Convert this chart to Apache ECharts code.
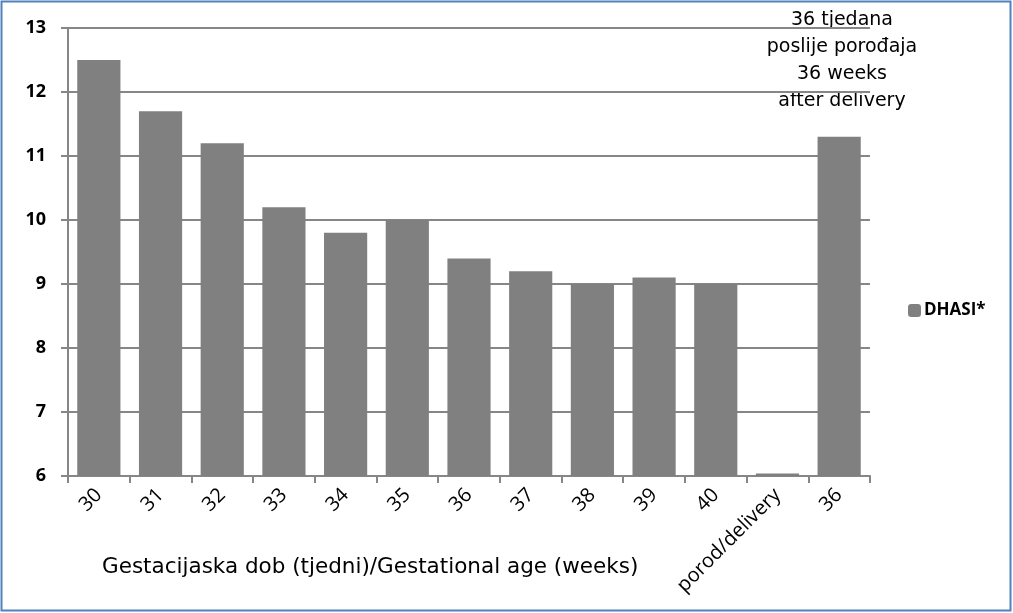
<!DOCTYPE html>
<html><head><meta charset="utf-8">
<script src="https://cdn.jsdelivr.net/npm/echarts@6/dist/echarts.min.js"></script>
<style>html,body{margin:0;padding:0;background:#fff}#c{width:1013px;height:613px}</style>
</head><body><div id="c"></div>
<script>
var categories = ['30','31','32','33','34','35','36','37','38','39','40','porod/delivery','36'];
var dhasi = [12.5, 11.7, 11.2, 10.2, 9.8, 10.0, 9.4, 9.2, 9.0, 9.1, 9.0, 6.04, 11.3];
var yTicks = [6, 7, 8, 9, 10, 11, 12, 13];
var seriesName = 'DHASI*';
var xTitle = 'Gestacijaska dob (tjedni)/Gestational age (weeks)';
var note = '36 tjedana\nposlije porođaja\n36 weeks\nafter delivery';

var chart = echarts.init(document.getElementById('c'), null, {renderer:'canvas'});
chart.setOption({
  animation:false,
  backgroundColor:'#fff',
  grid:{left:68, right:143, top:28, bottom:137, containLabel:false},
  legend:{
    data:[seriesName], left:903, top:297, itemWidth:13, itemHeight:13, itemGap:4,
    textStyle:{fontFamily:'Open Sans', fontSize:17, fontWeight:'bold', color:'#000', padding:[0,0,0,-2]}
  },
  xAxis:{
    type:'category', data:categories,
    axisLine:{lineStyle:{color:'#868686', width:2}},
    axisTick:{show:true, length:7, lineStyle:{color:'#868686', width:2}, alignWithLabel:false},
    axisLabel:{rotate:45, fontFamily:'Open Sans', fontSize:20, color:'#000', margin:16, interval:0},
    splitLine:{show:false}
  },
  yAxis:{
    type:'value', min:6, max:13, interval:1,
    axisLine:{show:true, lineStyle:{color:'#868686', width:2}},
    axisTick:{show:true, length:7, lineStyle:{color:'#868686', width:2}},
    axisLabel:{fontFamily:'Open Sans', fontSize:18, color:'#000', margin:22, fontWeight:'bold'},
    splitLine:{show:true, lineStyle:{color:'#868686', width:2}}
  },
  series:[{
    name:seriesName, type:'bar', data:dhasi, barCategoryGap:'30%',
    itemStyle:{color:'#808080'}
  }],
  graphic:[
    {type:'rect', shape:{x:1.5, y:1.5, width:1009, height:609}, style:{fill:null, stroke:'#4f81bd', lineWidth:2}, silent:true},
    {type:'text', left:102, top:556, style:{text:xTitle, font:'21.5px "DejaVu Sans"', fill:'#000'}},
    {type:'text', x:842, y:7, style:{text:note, font:'19px "DejaVu Sans"', fill:'#000', align:'center', lineHeight:27}}
  ]
});
</script></body></html>
